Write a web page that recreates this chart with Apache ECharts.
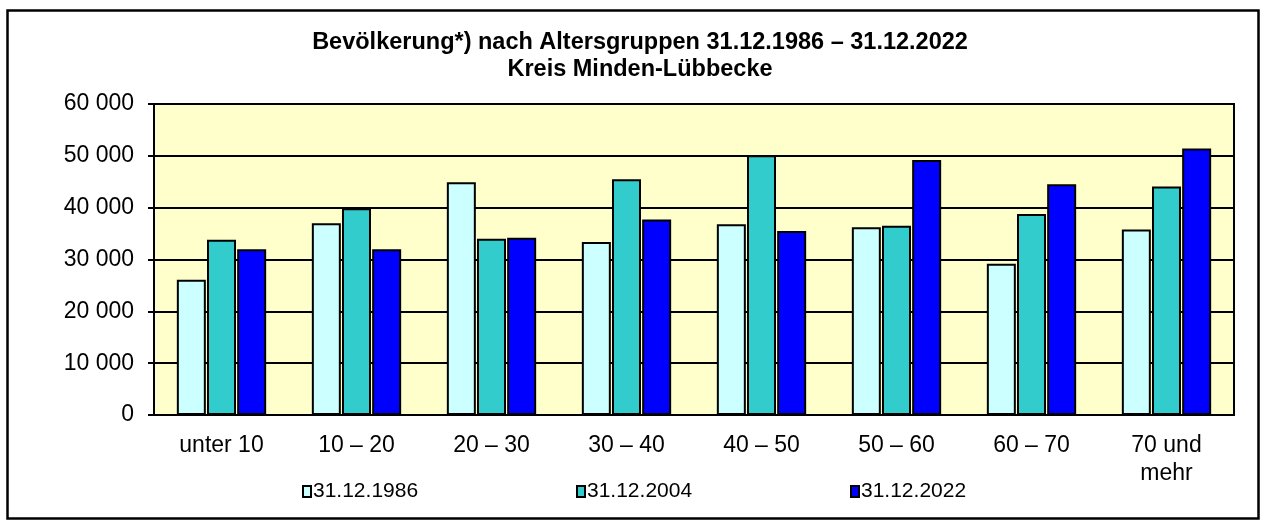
<!DOCTYPE html>
<html>
<head>
<meta charset="utf-8">
<script src="https://cdn.jsdelivr.net/npm/echarts@6/dist/echarts.min.js"></script>
<style>
html,body{margin:0;padding:0;background:#fff;}
#chart{width:1263px;height:524px;}
</style>
</head>
<body>
<div id="chart"></div>
<script>
const titleLines = ['Bevölkerung*) nach Altersgruppen 31.12.1986 – 31.12.2022', 'Kreis Minden-Lübbecke'];
const categories = ['unter 10', '10 – 20', '20 – 30', '30 – 40', '40 – 50', '50 – 60', '60 – 70', '70 und\nmehr'];
const seriesNames = ['31.12.1986', '31.12.2004', '31.12.2022'];
const values1986 = [26100, 37000, 44900, 33400, 36800, 36200, 29200, 35800];
const values2004 = [33800, 39900, 34000, 45500, 50100, 36500, 38800, 44100];
const values2022 = [32000, 32000, 34200, 37700, 35500, 49200, 44500, 51400];
const seriesColors = ['#CCFFFF', '#33CCCC', '#0000FF'];

const FONT = '"Liberation Sans", Arial, sans-serif';
const chart = echarts.init(document.getElementById('chart'), null, {renderer: 'canvas'});

function fmt(v) {
  return String(v).replace(/\B(?=(\d{3})+(?!\d))/g, ' ');
}

const allValues = [values1986, values2004, values2022];
const legendLefts = [302, 576, 850];

const option = {
  backgroundColor: '#ffffff',
  animation: false,
  title: {
    text: titleLines.join('\n'),
    left: 640,
    top: 29,
    padding: 0,
    textAlign: 'center',
    textStyle: {
      fontFamily: FONT,
      fontWeight: 'bold',
      fontSize: 23.5,
      lineHeight: 27,
      color: '#000'
    }
  },
  legend: seriesNames.map((n, i) => ({
    data: [n],
    left: legendLefts[i],
    top: 481,
    padding: 0,
    itemWidth: 8,
    itemHeight: 11,
    icon: 'rect',
    selectedMode: false,
    textStyle: {fontFamily: FONT, fontSize: 21, color: '#000', padding: [0, 0, 0, -3]}
  })),
  graphic: [{
    type: 'rect',
    shape: {x: 7.5, y: 10.5, width: 1251, height: 508},
    style: {fill: 'none', stroke: '#000', lineWidth: 2.5},
    silent: true
  }],
  grid: {
    left: 154,
    right: 29,
    top: 104,
    bottom: 109,
    show: true,
    backgroundColor: '#FFFFCC',
    borderColor: '#000',
    borderWidth: 2,
    containLabel: false
  },
  xAxis: {
    type: 'category',
    data: categories,
    axisLine: {show: true, lineStyle: {color: '#000', width: 2}},
    axisTick: {show: false},
    axisLabel: {
      fontFamily: FONT,
      fontSize: 23,
      lineHeight: 28,
      color: '#000',
      margin: 17,
      interval: 0
    },
    splitLine: {show: false}
  },
  yAxis: {
    type: 'value',
    min: 0,
    max: 60000,
    interval: 10000,
    axisLine: {show: true, lineStyle: {color: '#000', width: 2}},
    axisTick: {show: true, length: 6, lineStyle: {color: '#000', width: 2}},
    axisLabel: {
      fontFamily: FONT,
      fontSize: 23,
      color: '#000',
      margin: 20,
      formatter: fmt
    },
    splitLine: {show: true, lineStyle: {color: '#000', width: 2}}
  },
  series: seriesNames.map((n, i) => ({
    name: n,
    type: 'bar',
    data: allValues[i],
    barWidth: 29,
    barGap: '4%',
    itemStyle: {color: seriesColors[i], borderColor: '#000', borderWidth: 2}
  }))
};

chart.setOption(option);
</script>
</body>
</html>
